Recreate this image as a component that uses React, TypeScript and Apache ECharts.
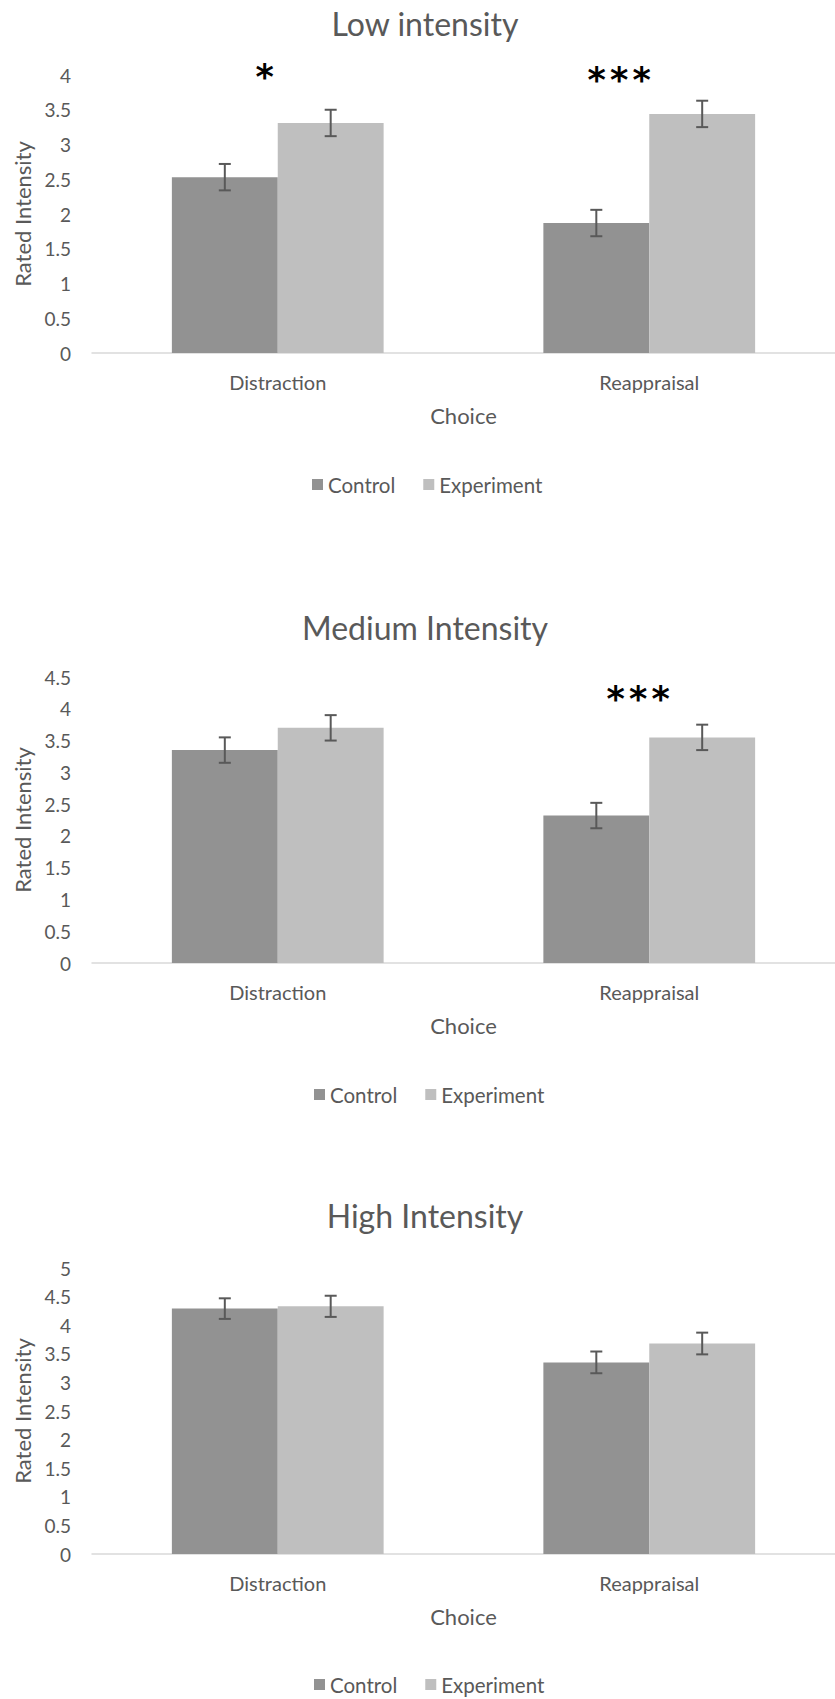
import React, { useEffect, useRef } from "react";
import * as echarts from "echarts";

// ---------- data ----------
const categories = ["Distraction", "Reappraisal"];
const seriesNames = ["Control", "Experiment"];
const chartTitles = ["Low intensity", "Medium Intensity", "High Intensity"];
const xAxisTitle = "Choice";
const yAxisTitle = "Rated Intensity";
const yMaxes = [4, 4.5, 5];
const yStep = 0.5;

const lowControl = [2.53, 1.87];
const lowControlErr = [0.19, 0.19];
const lowExperiment = [3.31, 3.44];
const lowExperimentErr = [0.19, 0.19];

const mediumControl = [3.35, 2.32];
const mediumControlErr = [0.2, 0.2];
const mediumExperiment = [3.7, 3.55];
const mediumExperimentErr = [0.2, 0.2];

const highControl = [4.29, 3.35];
const highControlErr = [0.18, 0.19];
const highExperiment = [4.33, 3.68];
const highExperimentErr = [0.185, 0.19];

// significance markers (text and the value level where they sit)
const lowStars = ["*", "***"];
const lowStarLevels = [4.0, 3.96];
const mediumStars = ["", "***"];
const mediumStarLevels = [0, 4.18];
const highStars = ["", ""];
const highStarLevels = [0, 0];

// ---------- styles / layout ----------
const FONT = "Lato";
const TEXT = "#595959";
const CONTROL_COLOR = "#929292";
const EXP_COLOR = "#bfbfbf";
const ERR_COLOR = "#595959";
const AXIS_COLOR = "#d9d9d9";
const BAR_GAP = 0.43;

const layouts = [
  { top: 75, height: 278, left: 92, width: 752, titleTop: 2, legendTop: 469, legendLeft: 307, starShift: [-13, -30] },
  { top: 677, height: 286, left: 92, width: 755, titleTop: 606, legendTop: 1079, legendLeft: 309, starShift: [0, -11] },
  { top: 1268, height: 286, left: 92, width: 755, titleTop: 1194, legendTop: 1669, legendLeft: 309, starShift: [0, 0] },
];

const panels = [
  { control: lowControl, controlErr: lowControlErr, exp: lowExperiment, expErr: lowExperimentErr, stars: lowStars, starLevels: lowStarLevels },
  { control: mediumControl, controlErr: mediumControlErr, exp: mediumExperiment, expErr: mediumExperimentErr, stars: mediumStars, starLevels: mediumStarLevels },
  { control: highControl, controlErr: highControlErr, exp: highExperiment, expErr: highExperimentErr, stars: highStars, starLevels: highStarLevels },
];

function errorSeries(name: string, idx: number, means: number[], errs: number[], side: number) {
  return {
    type: "custom",
    name: name + " error",
    xAxisIndex: idx,
    yAxisIndex: idx,
    z: 5,
    silent: true,
    data: means.map((m, i) => [i, m - errs[i], m + errs[i]]),
    encode: { x: 0, y: [1, 2] },
    renderItem: (params: any, api: any) => {
      const c = api.value(0);
      const lo = api.coord([c, api.value(1)]);
      const hi = api.coord([c, api.value(2)]);
      const band = api.size([1, 0])[0];
      const barW = (band * (1 - BAR_GAP)) / 2;
      const x = lo[0] + (side * barW) / 2;
      const cap = 6;
      const st = { stroke: ERR_COLOR, lineWidth: 2 };
      return {
        type: "group",
        children: [
          { type: "line", shape: { x1: x, y1: lo[1], x2: x, y2: hi[1] }, style: st },
          { type: "line", shape: { x1: x - cap, y1: lo[1], x2: x + cap, y2: lo[1] }, style: st },
          { type: "line", shape: { x1: x - cap, y1: hi[1], x2: x + cap, y2: hi[1] }, style: st },
        ],
      };
    },
  };
}

function starSeries(idx: number, stars: string[], levels: number[], shifts: number[]) {
  return {
    type: "custom",
    name: "significance",
    xAxisIndex: idx,
    yAxisIndex: idx,
    z: 6,
    silent: true,
    data: levels.map((v, i) => [i, v]),
    encode: { x: 0, y: 1 },
    renderItem: (params: any, api: any) => {
      const i = params.dataIndex;
      const s = stars[i];
      if (!s) return null;
      const p = api.coord([api.value(0), api.value(1)]);
      const n = s.length;
      const children: any[] = [];
      for (let k = 0; k < n; k++) {
        children.push({
          type: "text",
          x: p[0] + shifts[i] + (k - (n - 1) / 2) * 22.5,
          y: p[1] + 2,
          style: {
            text: "*",
            fill: "#000",
            fontSize: 35,
            fontWeight: "bold",
            fontFamily: "DejaVu Sans",
            align: "center",
            verticalAlign: "middle",
          },
        });
      }
      return { type: "group", children };
    },
  };
}

function buildOption() {
  const title: any[] = [];
  const grid: any[] = [];
  const xAxis: any[] = [];
  const yAxis: any[] = [];
  const legend: any[] = [];
  const series: any[] = [];

  panels.forEach((p, idx) => {
    const L = layouts[idx];
    title.push({
      text: chartTitles[idx],
      left: 420,
      textAlign: "center",
      top: L.titleTop,
      textStyle: { fontFamily: FONT, fontSize: 32, fontWeight: "normal", color: TEXT },
    });
    grid.push({ left: L.left, top: L.top, width: L.width, height: L.height, containLabel: false });
    xAxis.push({
      type: "category",
      gridIndex: idx,
      data: categories,
      axisLine: { show: true, lineStyle: { color: AXIS_COLOR, width: 1.5 } },
      axisTick: { show: false },
      axisLabel: { color: TEXT, fontFamily: FONT, fontSize: 20, margin: 19 },
      name: xAxisTitle,
      nameLocation: "middle",
      nameGap: 51,
      nameTextStyle: { color: TEXT, fontFamily: FONT, fontSize: 22 },
      splitLine: { show: false },
    });
    yAxis.push({
      type: "value",
      gridIndex: idx,
      min: 0,
      max: yMaxes[idx],
      interval: yStep,
      axisLine: { show: false },
      axisTick: { show: false },
      splitLine: { show: false },
      axisLabel: { color: TEXT, fontFamily: FONT, fontSize: 19, margin: 21 },
      name: yAxisTitle,
      nameLocation: "middle",
      nameGap: 59,
      nameRotate: 90,
      nameTextStyle: { color: TEXT, fontFamily: FONT, fontSize: 22 },
    });
    legend.push({
      data: seriesNames,
      left: L.legendLeft,
      top: L.legendTop,
      itemWidth: 11,
      itemHeight: 11,
      itemGap: 28,
      icon: "rect",
      textStyle: { color: TEXT, fontFamily: FONT, fontSize: 20.5 },
      selectedMode: false,
    });
    series.push({
      type: "bar",
      name: seriesNames[0],
      xAxisIndex: idx,
      yAxisIndex: idx,
      data: p.control,
      barGap: "0%",
      barCategoryGap: BAR_GAP * 100 + "%",
      itemStyle: { color: CONTROL_COLOR },
    });
    series.push({
      type: "bar",
      name: seriesNames[1],
      xAxisIndex: idx,
      yAxisIndex: idx,
      data: p.exp,
      barGap: "0%",
      barCategoryGap: BAR_GAP * 100 + "%",
      itemStyle: { color: EXP_COLOR },
    });
    series.push(errorSeries(seriesNames[0], idx, p.control, p.controlErr, -1));
    series.push(errorSeries(seriesNames[1], idx, p.exp, p.expErr, 1));
    series.push(starSeries(idx, p.stars, p.starLevels, L.starShift));
  });

  return { animation: false, backgroundColor: "#ffffff", title, grid, xAxis, yAxis, legend, series };
}

export default function App() {
  const ref = useRef<HTMLDivElement>(null);
  useEffect(() => {
    document.body.style.margin = "0";
    if (!ref.current) return;
    const chart = echarts.init(ref.current, undefined, { renderer: "svg" });
    chart.setOption(buildOption() as any);
    return () => chart.dispose();
  }, []);
  return <div ref={ref} style={{ width: 835, height: 1699 }} />;
}
